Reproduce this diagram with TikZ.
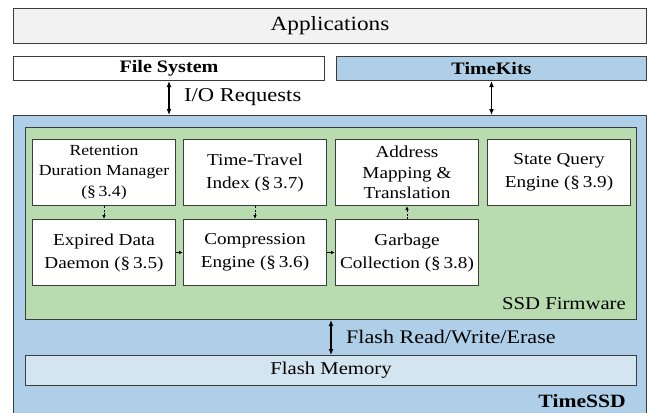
\documentclass[tikz,border=0pt]{standalone}
\usepackage{fontspec}
\setmainfont[FakeStretch=1.15]{Liberation Serif}
\usetikzlibrary{arrows.meta}
\definecolor{edgec}{HTML}{3C3C3C}
\definecolor{appfill}{HTML}{F2F2F2}
\definecolor{bluefill}{HTML}{AFCFE8}
\definecolor{greenfill}{HTML}{B8DCB0}
\definecolor{flashfill}{HTML}{D4E5F2}
\tikzset{
  blk/.style={draw=edgec, line width=1pt, inner sep=0pt, anchor=north west, align=center},
  fsize/.style={font=\fontsize{#1}{22}\selectfont},
  boxfont/.style={font=\fontsize{16.7}{23}\selectfont},
  inner/.style={blk, fill=white, minimum width=143pt, minimum height=66pt, boxfont},
  bigarrow/.style={{Latex[length=6pt,width=5pt]}-{Latex[length=6pt,width=5pt]}, line width=1.2pt, black},
  smallarrow/.style={-{Latex[length=4pt,width=3.5pt]}, line width=0.8pt, black},
  dasharrow/.style={smallarrow, dash pattern=on 2pt off 1.5pt},
}
\begin{document}
\begin{tikzpicture}[x=1pt,y=-1pt]
\useasboundingbox (0,0) rectangle (649,413);
\fill[white] (0,0) rectangle (649,413);
% top layers
\node[blk, fill=appfill, minimum width=633pt, minimum height=35pt, fsize=20.2] (app) at (13,8) {Applications};
\node[blk, fill=white, minimum width=311pt, minimum height=24pt, fsize=17.5] (fs) at (13,56) {\bfseries File System};
\node[blk, fill=bluefill, minimum width=310pt, minimum height=24pt, fsize=17.5] (tk) at (336,56) {\bfseries TimeKits};
% TimeSSD
\node[blk, fill=bluefill, minimum width=633pt, minimum height=310pt] (ssd) at (13,115) {};
\node[blk, fill=greenfill, minimum width=611pt, minimum height=192pt] (fw) at (25,127) {};
\node[anchor=east, inner sep=0pt, fsize=18] (fwlabel) at (626,304) {SSD Firmware};
% inner boxes
\node[inner, font=\fontsize{15.4}{20.5}\selectfont] (rdm) at (32,139) {Retention\\Duration Manager\\(\S\,3.4)};
\node[inner] (tti) at (183,139) {Time-Travel\\Index (\S\,3.7)};
\node[inner, font=\fontsize{16.7}{20.5}\selectfont] (amt) at (335,139) {Address\\Mapping \&\\Translation};
\node[inner] (sqe) at (487,139) {State Query\\Engine (\S\,3.9)};
\node[inner] (edd) at (32,219) {Expired Data\\Daemon (\S\,3.5)};
\node[inner] (ce) at (183,219) {Compression\\Engine (\S\,3.6)};
\node[inner] (gc) at (335,219) {Garbage\\Collection (\S\,3.8)};
% flash memory
\node[blk, fill=flashfill, minimum width=611pt, minimum height=30pt, fsize=18] (flash) at (25,355) {Flash Memory};
\node[anchor=east, inner sep=0pt, fsize=18.8] (ssdlabel) at (626,401) {\bfseries TimeSSD};
% arrows
\draw[bigarrow] (fs.south) -- (fs.south |- ssd.north);
\draw[bigarrow] (tk.south) -- (tk.south |- ssd.north);
\draw[bigarrow] (fw.south) -- (flash.north);
\node[anchor=west, inner sep=0pt, fsize=19.6] (io) at (184,97) {I/O Requests};
\node[anchor=west, inner sep=0pt, fsize=19.2] (frwe) at (346,337) {Flash Read/Write/Erase};
\draw[dasharrow] (rdm.south) -- (edd.north);
\draw[dasharrow] (tti.south) -- (ce.north);
\draw[dasharrow] (gc.north) -- (amt.south);
\draw[smallarrow] (edd.east) -- (ce.west);
\draw[smallarrow] (ce.east) -- (gc.west);
\end{tikzpicture}
\end{document}
